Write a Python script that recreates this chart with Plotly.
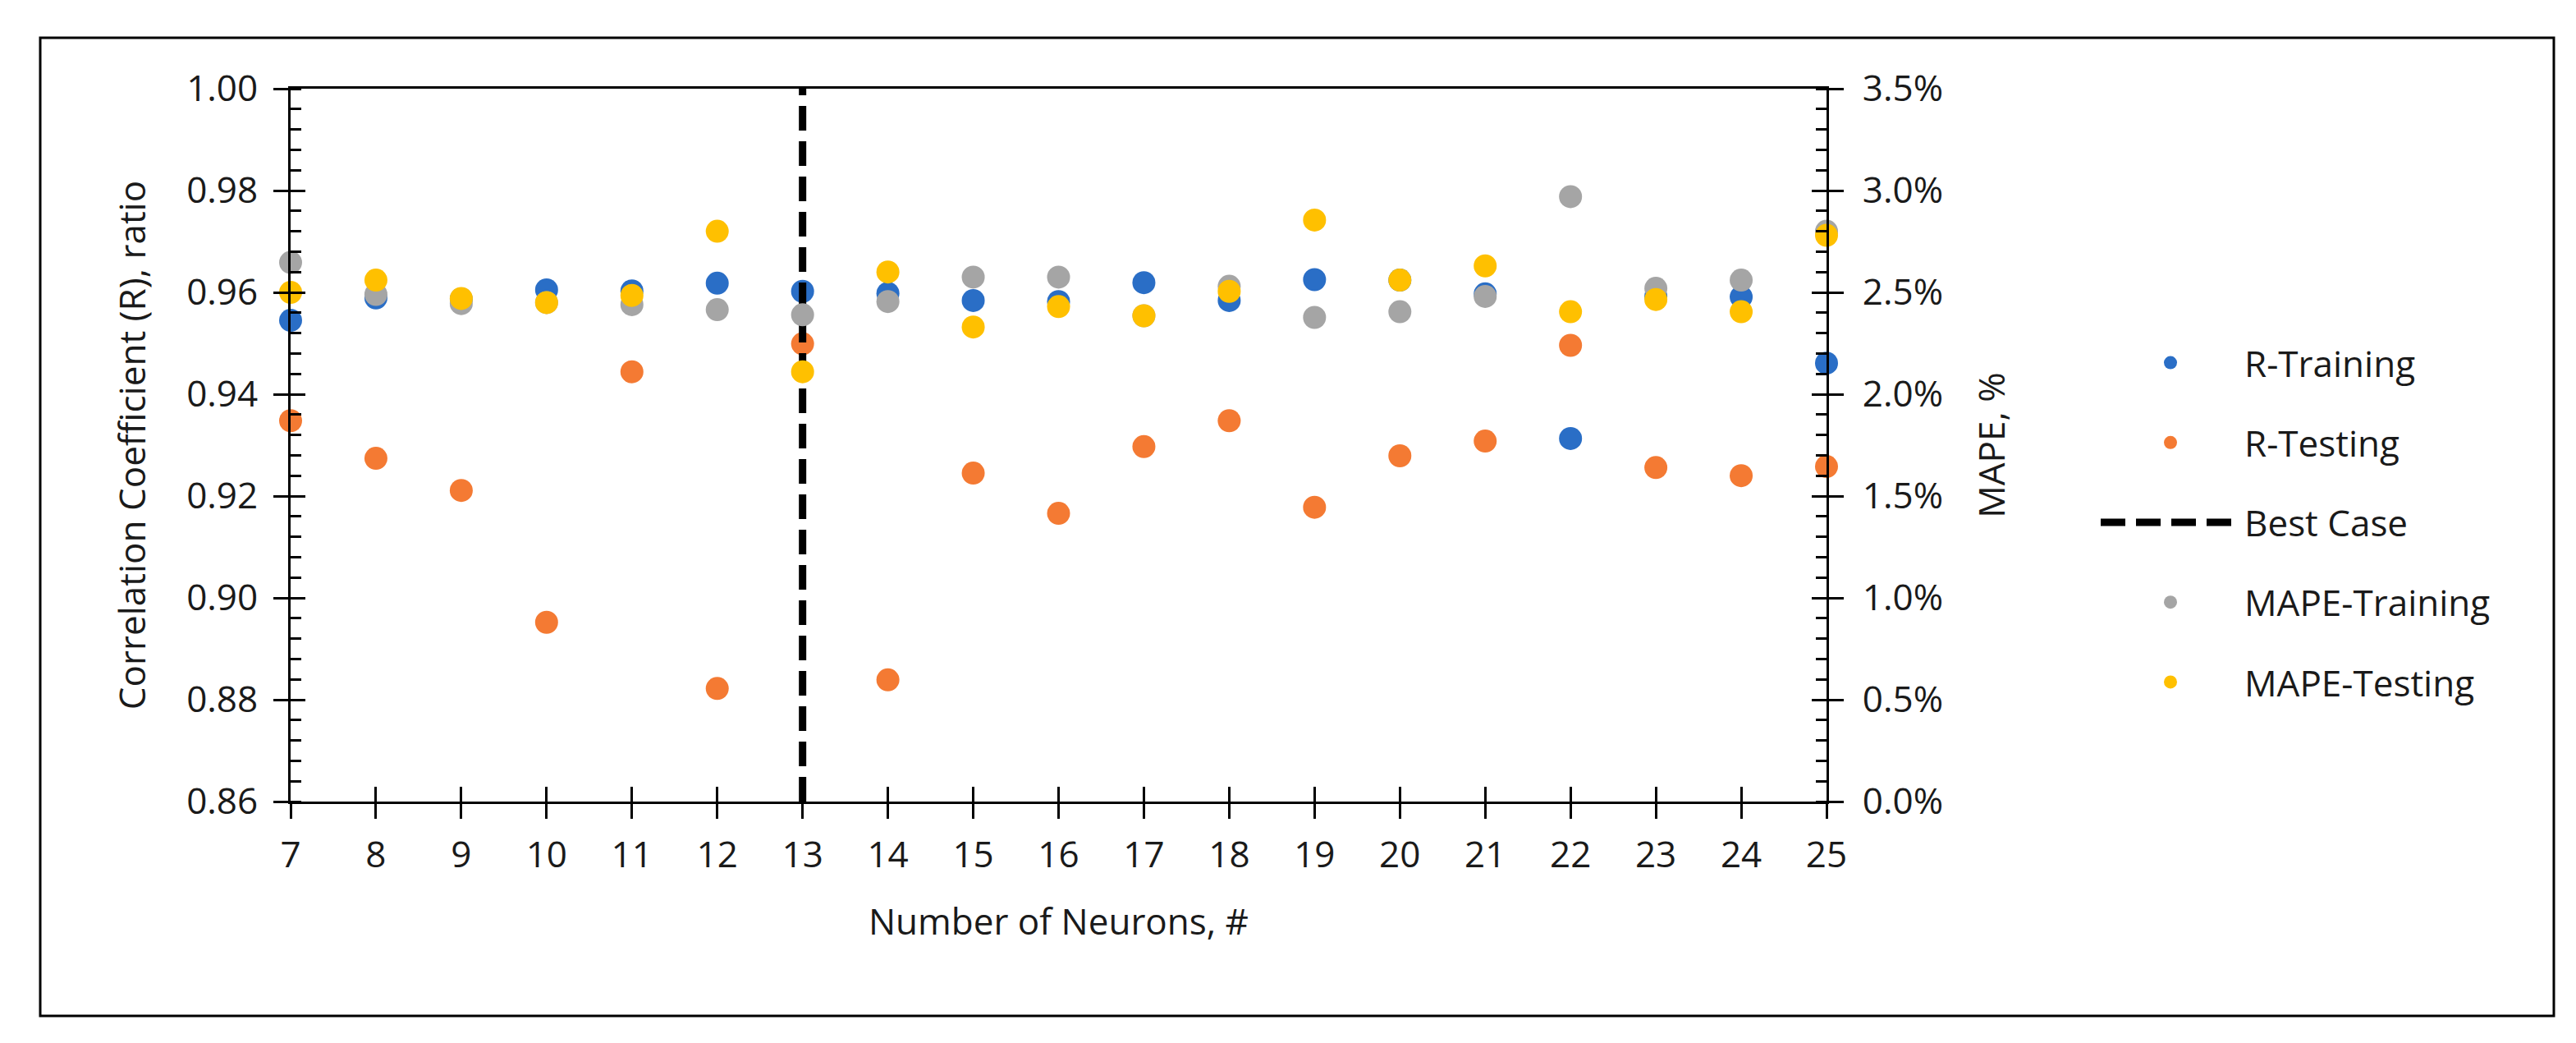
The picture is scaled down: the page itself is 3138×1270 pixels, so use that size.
import plotly.graph_objects as go

neurons = list(range(7, 26))
r_training = [0.9545, 0.9589, 0.9587, 0.9605, 0.9603, 0.9618, 0.9602, 0.9598, 0.9584, 0.9582,
              0.9619, 0.9584, 0.9625, 0.9624, 0.9597, 0.9313, 0.9592, 0.9591, 0.9461]
r_testing = [0.9348, 0.9274, 0.9211, 0.8952, 0.9444, 0.8822, 0.9499, 0.8839, 0.9245, 0.9166,
             0.9297, 0.9348, 0.9178, 0.9279, 0.9308, 0.9496, 0.9256, 0.9240, 0.9258]
mape_training = [2.647, 2.49, 2.445, 2.45, 2.44, 2.415, 2.39, 2.455, 2.575, 2.575,
                 2.385, 2.53, 2.377, 2.405, 2.48, 2.97, 2.52, 2.56, 2.80]
mape_testing = [2.50, 2.56, 2.47, 2.45, 2.485, 2.80, 2.11, 2.60, 2.33, 2.43,
                2.385, 2.505, 2.855, 2.56, 2.63, 2.405, 2.465, 2.405, 2.78]
best_case_x = [13, 13]
best_case_y = [0.86, 1.00]

BLUE = "#2A6EC6"
ORANGE = "#F47A33"
GRAY = "#A5A5A5"
YELLOW = "#FFC000"
FONT = "Open Sans"
FS = 44
MS = 28

fig = go.Figure()
fig.add_trace(go.Scatter(x=neurons, y=r_training, mode="markers", name="R-Training",
                         marker=dict(color=BLUE, size=MS), cliponaxis=False, legendgroup="a"))
fig.add_trace(go.Scatter(x=neurons, y=r_testing, mode="markers", name="R-Testing",
                         marker=dict(color=ORANGE, size=MS), cliponaxis=False, legendgroup="b"))
fig.add_trace(go.Scatter(x=best_case_x, y=best_case_y, mode="lines", name="Best Case",
                         line=dict(color="black", width=9, dash="30px,13px"), legendgroup="c"))
fig.add_trace(go.Scatter(x=neurons, y=mape_training, mode="markers", name="MAPE-Training",
                         marker=dict(color=GRAY, size=MS), yaxis="y2", cliponaxis=False, legendgroup="d"))
fig.add_trace(go.Scatter(x=neurons, y=mape_testing, mode="markers", name="MAPE-Testing",
                         marker=dict(color=YELLOW, size=MS), yaxis="y2", cliponaxis=False, legendgroup="e"))
# helper empty traces so that the overlay tick axes are drawn
fig.add_trace(go.Scatter(x=[], y=[], xaxis="x2", yaxis="y3", showlegend=False, hoverinfo="skip"))
fig.add_trace(go.Scatter(x=[], y=[], xaxis="x2", yaxis="y4", showlegend=False, hoverinfo="skip"))

W, H = 3138, 1270
L, R, T, B = 346, W - 2217, 100, H - 968
pw, ph = W - L - R, H - T - B

tickfont = dict(family=FONT, size=FS, color="#1a1a1a")
common = dict(showgrid=False, zeroline=False, linecolor="black", linewidth=3,
              tickcolor="black", tickwidth=3, ticklen=18)

fig.update_layout(
    width=W, height=H,
    margin=dict(l=L, r=R, t=T, b=B),
    paper_bgcolor="white", plot_bgcolor="white",
    font=dict(family=FONT, size=FS, color="#1a1a1a"),
    xaxis=dict(range=[7, 25], dtick=1, tick0=7, ticks="outside", showline=True, mirror=True,
               tickfont=tickfont, ticklabelstandoff=6,
               title=dict(text="Number of Neurons, #", font=dict(family=FONT, size=FS), standoff=40),
               **common),
    xaxis2=dict(range=[7, 25], dtick=1, tick0=7, ticks="inside", overlaying="x", anchor="y",
                showticklabels=False, showline=False, **common),
    yaxis=dict(range=[0.86, 1.0], dtick=0.02, tick0=0.86, tickformat=".2f", ticks="outside",
               showline=True, tickfont=tickfont, ticklabelstandoff=10,
               minor=dict(dtick=0.004, ticks="inside", ticklen=13, tickwidth=3, tickcolor="black"),
               title=dict(text="Correlation Coefficient (R), ratio", font=dict(family=FONT, size=FS),
                          standoff=36),
               **common),
    yaxis2=dict(range=[0, 3.5], dtick=0.5, tick0=0, tickformat=".1f", ticksuffix="%",
                ticks="outside", overlaying="y", side="right", anchor="x", showline=True,
                tickfont=tickfont, ticklabelstandoff=14,
                minor=dict(dtick=0.1, ticks="inside", ticklen=13, tickwidth=3, tickcolor="black"),
                title=dict(text="MAPE, %", font=dict(family=FONT, size=FS), standoff=46),
                **common),
    yaxis3=dict(range=[0.86, 1.0], dtick=0.02, tick0=0.86, ticks="inside", overlaying="y",
                side="left", anchor="x", showticklabels=False, showline=False, **common),
    yaxis4=dict(range=[0, 3.5], dtick=0.5, tick0=0, ticks="inside", overlaying="y",
                side="right", anchor="x", showticklabels=False, showline=False, **common),
    legend=dict(x=(2546 - L) / pw, xanchor="left", y=(968 - 628) / ph, yanchor="middle",
                font=dict(family=FONT, size=FS, color="#1a1a1a"), itemwidth=170,
                tracegroupgap=37, bgcolor="rgba(0,0,0,0)", traceorder="grouped"),
    shapes=[dict(type="rect", xref="paper", yref="paper",
                 x0=(41 - L) / pw, x1=(3103 - L) / pw,
                 y0=(968 - 1229) / ph, y1=(968 - 38) / ph,
                 line=dict(color="black", width=3), fillcolor="rgba(0,0,0,0)", layer="below")],
    showlegend=True,
)

fig.write_html("out.html")
